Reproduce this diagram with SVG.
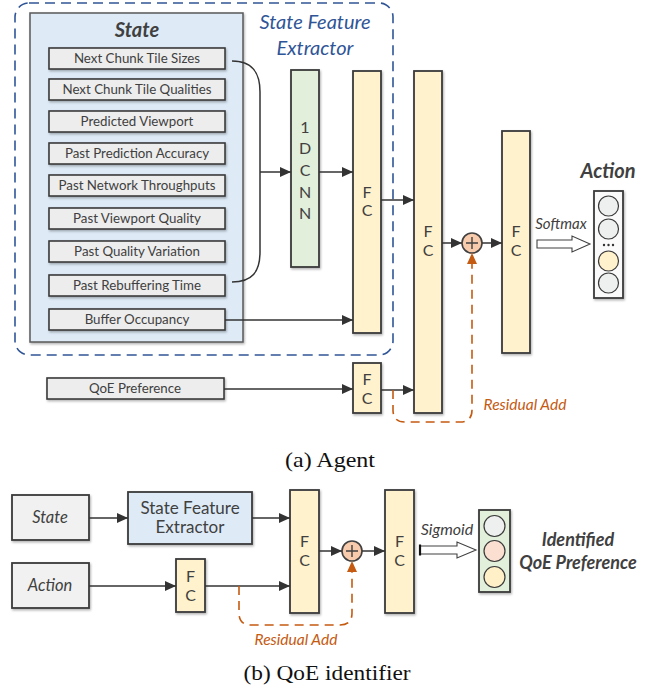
<svg xmlns="http://www.w3.org/2000/svg" width="660" height="690" viewBox="0 0 660 690">
<defs>
<style>
.t{font-family:Lato,"Open Sans","Liberation Sans",sans-serif;fill:#404040}
.item{fill:#ededed;stroke:#3a3a3a;stroke-width:1.6}
.fc{fill:#fff2cc;stroke:#3a3a3a;stroke-width:1.8}
.cnn{fill:#e2efda;stroke:#3a3a3a;stroke-width:1.8}
.conn{fill:none;stroke:#333;stroke-width:1.5}
.res{fill:none;stroke:#c55a11;stroke-width:1.6;stroke-dasharray:9 6}
.cap{font-family:"Liberation Serif","DejaVu Serif",serif;fill:#111;font-size:22px}
.lt{font-size:16px;text-anchor:middle}
.it{font-size:13.3px;text-anchor:middle}
</style>
<marker id="ah" markerUnits="userSpaceOnUse" markerWidth="11" markerHeight="10" refX="11" refY="5" orient="auto"><path d="M0,0 L11,5 L0,10 z" fill="#333"/></marker>
<marker id="ao" markerUnits="userSpaceOnUse" markerWidth="11" markerHeight="10" refX="11" refY="5" orient="auto"><path d="M0,0 L11,5 L0,10 z" fill="#c55a11"/></marker>
<filter id="sh" x="-10%" y="-10%" width="130%" height="130%"><feDropShadow dx="1" dy="1.5" stdDeviation="1" flood-color="#000" flood-opacity="0.3"/></filter>
</defs>
<rect width="660" height="690" fill="#fff"/>

<!-- (a) Agent -->
<g id="sfe-group">
<rect x="15" y="3" width="378" height="352" rx="14" fill="none" stroke="#2f5597" stroke-width="1.6" stroke-dasharray="10 6"/>
<text class="t" x="315" y="29" font-size="20" font-style="italic" text-anchor="middle" style="fill:#2f5597">State Feature</text>
<text class="t" x="315" y="55" font-size="20" font-style="italic" text-anchor="middle" style="fill:#2f5597">Extractor</text>
</g>
<g id="state">
<rect x="30" y="13" width="213" height="329" fill="#deebf7" stroke="#595959" stroke-width="1.5" filter="url(#sh)"/>
<text class="t" x="137" y="37" font-size="20" font-weight="bold" font-style="italic" text-anchor="middle">State</text>
</g>
<g id="item1"><rect class="item" x="49" y="48" width="176" height="21" filter="url(#sh)"/><text class="t it" x="137" y="63">Next Chunk Tile Sizes</text></g>
<g id="item2"><rect class="item" x="49" y="79" width="176" height="21" filter="url(#sh)"/><text class="t it" x="137" y="94">Next Chunk Tile Qualities</text></g>
<g id="item3"><rect class="item" x="49" y="111" width="176" height="21" filter="url(#sh)"/><text class="t it" x="137" y="126">Predicted Viewport</text></g>
<g id="item4"><rect class="item" x="49" y="143" width="176" height="21" filter="url(#sh)"/><text class="t it" x="137" y="158">Past Prediction Accuracy</text></g>
<g id="item5"><rect class="item" x="49" y="175" width="176" height="21" filter="url(#sh)"/><text class="t it" x="137" y="190">Past Network Throughputs</text></g>
<g id="item6"><rect class="item" x="49" y="208" width="176" height="21" filter="url(#sh)"/><text class="t it" x="137" y="223">Past Viewport Quality</text></g>
<g id="item7"><rect class="item" x="49" y="241" width="176" height="21" filter="url(#sh)"/><text class="t it" x="137" y="256">Past Quality Variation</text></g>
<g id="item8"><rect class="item" x="49" y="275" width="176" height="21" filter="url(#sh)"/><text class="t it" x="137" y="290">Past Rebuffering Time</text></g>
<g id="item9"><rect class="item" x="49" y="309" width="176" height="21" filter="url(#sh)"/><text class="t it" x="137" y="324">Buffer Occupancy</text></g>
<g id="qoe"><rect class="item" x="47" y="378" width="177" height="21" filter="url(#sh)"/><text class="t it" x="135" y="393">QoE Preference</text></g>

<g id="cnn">
<rect class="cnn" x="291" y="70" width="28" height="197" filter="url(#sh)"/>
<text class="t lt" x="305" y="133">1</text>
<text class="t lt" x="305" y="154">D</text>
<text class="t lt" x="305" y="176">C</text>
<text class="t lt" x="305" y="198">N</text>
<text class="t lt" x="305" y="219">N</text>
</g>
<g id="fc1"><rect class="fc" x="353" y="71" width="28" height="262" filter="url(#sh)"/><text class="t lt" x="367" y="198">F</text><text class="t lt" x="367" y="216">C</text></g>
<g id="fc2"><rect class="fc" x="414" y="71" width="28" height="342" filter="url(#sh)"/><text class="t lt" x="428" y="237">F</text><text class="t lt" x="428" y="256">C</text></g>
<g id="fc3"><rect class="fc" x="502" y="131" width="28" height="222" filter="url(#sh)"/><text class="t lt" x="516" y="237">F</text><text class="t lt" x="516" y="256">C</text></g>
<g id="fcq"><rect class="fc" x="353" y="363" width="28" height="50" filter="url(#sh)"/><text class="t lt" x="367" y="385">F</text><text class="t lt" x="367" y="404">C</text></g>
<g id="plus1">
<circle cx="472" cy="243" r="10" fill="#f8cbad" stroke="#404040" stroke-width="1.6"/>
<path d="M466,243 H478 M472,237 V249" stroke="#404040" stroke-width="1.4"/>
</g>
<g id="action">
<text class="t" x="608" y="178" font-size="20" font-weight="bold" font-style="italic" text-anchor="middle">Action</text>
<rect x="594" y="191" width="29" height="107" fill="#fafafa" stroke="#3a3a3a" stroke-width="1.8" filter="url(#sh)"/>
<circle cx="608.5" cy="206" r="10" fill="#eef0ef" stroke="#3a3a3a" stroke-width="1.2"/>
<circle cx="608.5" cy="229" r="10" fill="#eef0ef" stroke="#3a3a3a" stroke-width="1.2"/>
<circle cx="604" cy="245" r="1.2" fill="#333"/><circle cx="608.5" cy="245" r="1.2" fill="#333"/><circle cx="613" cy="245" r="1.2" fill="#333"/>
<circle cx="608.5" cy="261" r="10" fill="#fff2cc" stroke="#3a3a3a" stroke-width="1.2"/>
<circle cx="608.5" cy="283" r="10" fill="#eef0ef" stroke="#3a3a3a" stroke-width="1.2"/>
</g>

<!-- (b) QoE identifier -->
<g id="b-state"><rect x="12" y="495" width="77" height="45" fill="#f0f1f0" stroke="#3a3a3a" stroke-width="1.8" filter="url(#sh)"/><text class="t" x="50" y="523" font-size="16.5" font-style="italic" text-anchor="middle">State</text></g>
<g id="b-action"><rect x="12" y="563" width="77" height="45" fill="#f0f1f0" stroke="#3a3a3a" stroke-width="1.8" filter="url(#sh)"/><text class="t" x="50" y="591" font-size="16.5" font-style="italic" text-anchor="middle">Action</text></g>
<g id="b-sfe"><rect x="128" y="492" width="124" height="52" fill="#deebf7" stroke="#3a3a3a" stroke-width="1.8" filter="url(#sh)"/><text class="t" x="190" y="514" font-size="17" text-anchor="middle">State Feature</text><text class="t" x="190" y="533" font-size="17" text-anchor="middle">Extractor</text></g>
<g id="b-fcs"><rect class="fc" x="176" y="559" width="29" height="53" filter="url(#sh)"/><text class="t lt" x="190.5" y="582">F</text><text class="t lt" x="190.5" y="601">C</text></g>
<g id="b-fc1"><rect class="fc" x="290" y="490" width="29" height="123" filter="url(#sh)"/><text class="t lt" x="304.5" y="547">F</text><text class="t lt" x="304.5" y="566">C</text></g>
<g id="b-fc2"><rect class="fc" x="385" y="490" width="29" height="123" filter="url(#sh)"/><text class="t lt" x="399.5" y="547">F</text><text class="t lt" x="399.5" y="566">C</text></g>
<g id="plus2">
<circle cx="352" cy="551" r="10" fill="#f8cbad" stroke="#404040" stroke-width="1.6"/>
<path d="M346,551 H358 M352,545 V557" stroke="#404040" stroke-width="1.4"/>
</g>
<g id="b-out">
<rect x="479" y="510" width="31" height="82" fill="#e2efda" stroke="#3a3a3a" stroke-width="1.8" filter="url(#sh)"/>
<circle cx="494.5" cy="526" r="10.5" fill="#eef0ef" stroke="#3a3a3a" stroke-width="1.2"/>
<circle cx="494.5" cy="551" r="10.5" fill="#fbe0d1" stroke="#3a3a3a" stroke-width="1.2"/>
<circle cx="494.5" cy="577" r="10.5" fill="#fff0c8" stroke="#3a3a3a" stroke-width="1.2"/>
<text class="t" x="578" y="546" font-size="18" font-weight="bold" font-style="italic" text-anchor="middle">Identified</text>
<text class="t" x="578" y="569" font-size="18" font-weight="bold" font-style="italic" text-anchor="middle">QoE Preference</text>
</g>

<g id="connectors">
<path class="conn" d="M232,61 C252,61 260,72 260,92 L260,252 C260,272 252,282 232,282"/>
<path class="conn" d="M260,172 H291" marker-end="url(#ah)"/>
<path class="conn" d="M319,172 H353" marker-end="url(#ah)"/>
<path class="conn" d="M225,320 H353" marker-end="url(#ah)"/>
<path class="conn" d="M381,200 H414" marker-end="url(#ah)"/>
<path class="conn" d="M224,389 H353" marker-end="url(#ah)"/>
<path class="conn" d="M381,390 H414" marker-end="url(#ah)"/>
<path class="conn" d="M442,243 H462" marker-end="url(#ah)"/>
<path class="conn" d="M482,243 H502" marker-end="url(#ah)"/>
<path class="res" d="M393,390 V410 Q393,422 405,422 H460 Q472,422 472,410 V253" marker-end="url(#ao)"/>
<polygon points="537,240 572,240 572,236 590,244 572,252 572,248 537,248" fill="#fff" stroke="#404040" stroke-width="1.1"/>
<text class="t" x="561" y="229" font-size="15" font-style="italic" text-anchor="middle">Softmax</text>
<text class="t" x="525" y="410" font-size="15.5" font-style="italic" text-anchor="middle" style="fill:#c55a11">Residual Add</text>

<path class="conn" d="M89,518 H128" marker-end="url(#ah)"/>
<path class="conn" d="M252,518 H290" marker-end="url(#ah)"/>
<path class="conn" d="M89,586 H176" marker-end="url(#ah)"/>
<path class="conn" d="M205,586 H290" marker-end="url(#ah)"/>
<path class="conn" d="M319,551 H342" marker-end="url(#ah)"/>
<path class="conn" d="M362,551 H385" marker-end="url(#ah)"/>
<path class="res" d="M239,586 V613 Q239,625 251,625 H340 Q352,625 352,613 V561" marker-end="url(#ao)"/>
<polygon points="420,546 457,546 457,542 476,550 457,558 457,554 420,554" fill="#fff" stroke="#404040" stroke-width="1.1"/>
<path d="M420,544.5 V555.5" stroke="#111" stroke-width="2.2"/>
<text class="t" x="447" y="535" font-size="16" font-style="italic" text-anchor="middle">Sigmoid</text>
<text class="t" x="296" y="645" font-size="15.5" font-style="italic" text-anchor="middle" style="fill:#c55a11">Residual Add</text>
</g>

<text class="cap" x="330" y="467" text-anchor="middle" textLength="90" lengthAdjust="spacingAndGlyphs">(a)  Agent</text>
<text class="cap" x="327" y="680" text-anchor="middle" textLength="167" lengthAdjust="spacingAndGlyphs">(b)  QoE identifier</text>
</svg>
